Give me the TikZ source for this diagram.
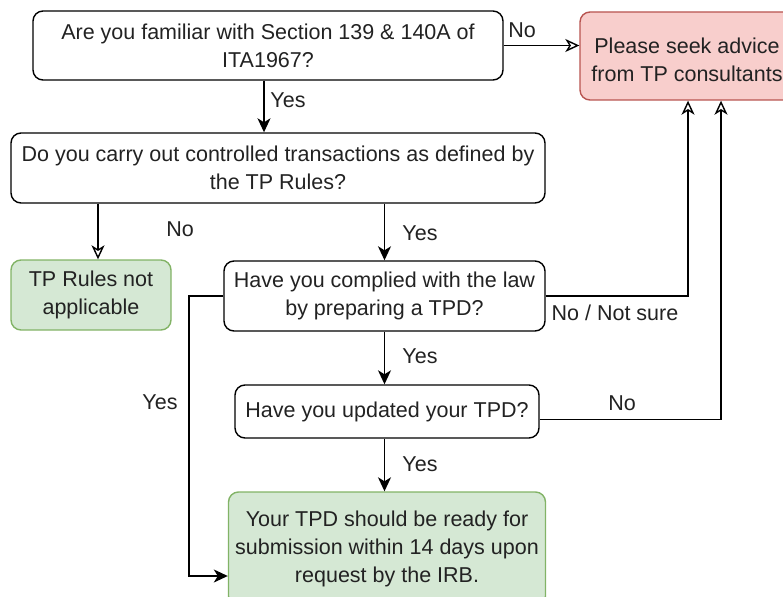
\documentclass[tikz,border=0pt]{standalone}
\usepackage{fontspec}
\setmainfont{Liberation Sans}
\usetikzlibrary{arrows.meta}
\definecolor{gfill}{HTML}{D5E8D4}
\definecolor{gline}{HTML}{82B366}
\definecolor{rfill}{HTML}{F8CECC}
\definecolor{rline}{HTML}{B85450}
\definecolor{txt}{HTML}{222222}
\tikzset{
  box/.style={draw=black, line width=1.4pt, rounded corners=10pt, align=center, text=txt, inner sep=0pt,
    font=\fontsize{21.5}{28}\selectfont},
  gbox/.style={box, fill=gfill, draw=gline},
  rbox/.style={box, fill=rfill, draw=rline},
  lbl/.style={text=txt, font=\fontsize{21.5}{28}\selectfont, inner sep=0pt},
  yesarrow/.style={line width=1.4pt, -{Stealth[length=14pt,width=13pt,inset=4pt]}},
  noarrow/.style={line width=1.4pt, -{Stealth[open,length=14pt,width=13pt,inset=4pt,fill=white]}},
}
\begin{document}
\begin{tikzpicture}[x=1pt,y=-1pt]
\useasboundingbox (0,0) rectangle (783,596);
\node[box, minimum width=470pt, minimum height=69pt] (b1) at (268,45.5) {Are you familiar with Section 139 \& 140A of\\ITA1967?};
\node[rbox, minimum width=214pt, minimum height=88pt] (pink) at (687,56) {};
\node[lbl, align=center] (pinktxt) at (687,60) {Please seek advice\\from TP consultants};
\node[box, minimum width=534pt, minimum height=70pt] (b3) at (278,168) {Do you carry out controlled transactions as defined by\\the TP Rules?};
\node[gbox, minimum width=160pt, minimum height=70pt] (tp) at (91,295) {TP Rules not\\applicable};
\node[box, minimum width=321pt, minimum height=70pt] (b4) at (384.5,296) {Have you complied with the law\\by preparing a TPD?};
\node[box, minimum width=304pt, minimum height=53pt] (b5) at (387,411.5) {Have you updated your TPD?};
\node[gbox, minimum width=317pt, minimum height=114pt] (fin) at (387,549) {Your TPD should be ready for\\submission within 14 days upon\\request by the IRB.};
\coordinate (yl) at (189,576);

\draw[noarrow] (b1.east) -- (b1.east -| pink.west);
\draw[yesarrow] ([xshift=-4pt]b1.south) -- ([xshift=-4pt]b1.south |- b3.north);
\draw[noarrow] ([xshift=7pt]tp.north |- b3.south) -- ([xshift=7pt]tp.north);
\draw[yesarrow] (b4.north |- b3.south) -- (b4.north);
\draw[noarrow] (b4.east) -| ([xshift=1pt]pink.south);
\draw[yesarrow] (b4.south) -- (b4.south |- b5.north);
\draw[noarrow] ([yshift=-8pt]b5.east) -| ([xshift=34pt]pink.south);
\draw[yesarrow] (b4.south |- b5.south) -- (b4.south |- fin.north);
\draw[yesarrow] (b4.west) -| (yl) -- (yl -| fin.west);

\node[lbl] (l1) at (522,30) {No};
\node[lbl] (l2) at (288,100) {Yes};
\node[lbl] (l3) at (180,229) {No};
\node[lbl] (l4) at (420,233) {Yes};
\node[lbl] (l5) at (615,313) {No / Not sure};
\node[lbl] (l6) at (420,356) {Yes};
\node[lbl] (l7) at (622,403) {No};
\node[lbl] (l8) at (420,464) {Yes};
\node[lbl] (l9) at (160,402) {Yes};
\end{tikzpicture}
\end{document}
